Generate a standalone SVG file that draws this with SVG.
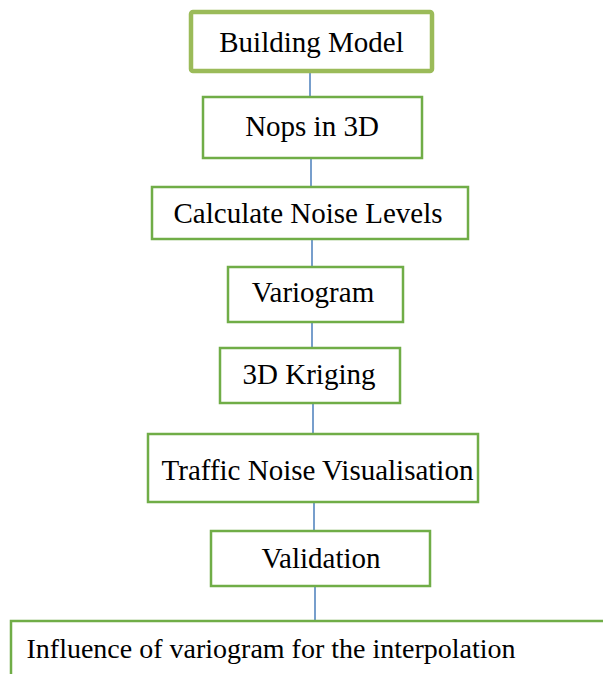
<svg xmlns="http://www.w3.org/2000/svg" width="603" height="674" viewBox="0 0 603 674">
<style>
.box{fill:#fff;stroke:#70ad47;stroke-width:2.5}
.box1{fill:#fff;stroke:#9bbb59;stroke-width:4.5}
.t{font-family:"Liberation Serif","Times New Roman",serif;font-size:29px;fill:#000;text-anchor:middle}
.c{stroke:#4a7ebb;stroke-width:1.5;fill:none}
</style>
<rect width="603" height="674" fill="#fff"/>
<g id="connectors">
<line class="c" x1="310" y1="72" x2="310" y2="97"/>
<line class="c" x1="311" y1="158" x2="311" y2="187"/>
<line class="c" x1="312" y1="239" x2="312" y2="267"/>
<line class="c" x1="312" y1="322" x2="312" y2="348"/>
<line class="c" x1="313" y1="403" x2="313" y2="434"/>
<line class="c" x1="314" y1="502" x2="314" y2="531"/>
<line class="c" x1="315" y1="586" x2="315" y2="620"/>
</g>
<g id="n1"><rect class="box1" x="191" y="12" width="241" height="59" rx="2"/><text class="t" x="311.5" y="52">Building Model</text></g>
<g id="n2"><rect class="box" x="203" y="97" width="219" height="61"/><text class="t" x="312" y="136">Nops in 3D</text></g>
<g id="n3"><rect class="box" x="152" y="187" width="316" height="52"/><text class="t" x="308" y="223">Calculate Noise Levels</text></g>
<g id="n4"><rect class="box" x="228" y="267" width="175" height="55"/><text class="t" x="313" y="302">Variogram</text></g>
<g id="n5"><rect class="box" x="220" y="348" width="180" height="55"/><text class="t" x="309" y="384">3D Kriging</text></g>
<g id="n6"><rect class="box" x="148" y="434" width="330" height="68"/><text class="t" x="317.5" y="480">Traffic Noise Visualisation</text></g>
<g id="n7"><rect class="box" x="211" y="531" width="219" height="55"/><text class="t" x="321" y="568">Validation</text></g>
<g id="n8"><rect class="box" x="11" y="621" width="600" height="70"/><text class="t" x="271" y="658" style="font-size:28px">Influence of variogram for the interpolation</text></g>
</svg>
